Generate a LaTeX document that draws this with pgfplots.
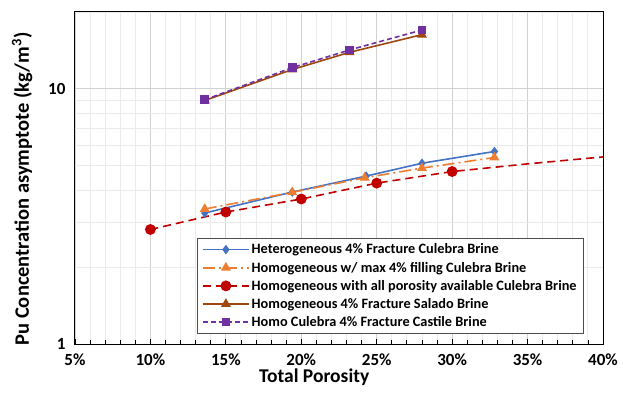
\documentclass[border=0pt]{standalone}
\usepackage{pgfplots}
\pgfplotsset{compat=1.18}
\usepackage{fontspec}
\setmainfont{Carlito}
\definecolor{cblue}{HTML}{4472C4}
\definecolor{corange}{HTML}{ED7D31}
\definecolor{cred}{HTML}{C00000}
\definecolor{cbrown}{HTML}{9E480E}
\definecolor{cpurple}{HTML}{7030A0}
\newcommand{\lf}{\bfseries\fontsize{14.3}{16}\selectfont}
\begin{document}
\begin{tikzpicture}
\begin{axis}[
  scale only axis, width=528pt, height=332pt,
  xmin=5, xmax=40, ymode=log, ymin=1, ymax=20,
  xtick={5,10,...,40}, minor x tick num=4,
  xticklabel={\pgfmathprintnumber{\tick}\%},
  ytick={1,10}, yticklabels={1,10}, minor ytick={2,3,4,5,6,7,8,9,20},
  grid=both,
  major grid style={color=black!18, line width=0.9pt},
  minor grid style={color=black!8, line width=0.9pt},
  tick align=inside, xtick pos=bottom, ytick pos=left,
  major tick length=5pt, minor tick length=4pt,
  y tick style={draw=none}, x tick style={black, line width=0.8pt},
  axis line style={line width=1pt},
  /pgf/number format/assume math mode=true,
  ticklabel style={font=\bfseries\fontsize{17}{17}\selectfont},
  xticklabel style={yshift=-6pt},
  yticklabel style={xshift=-6pt},
  xlabel={Total Porosity},
  ylabel={Pu Concentration asymptote (kg/m\textsuperscript{3})},
  xlabel style={font=\bfseries\fontsize{19.5}{19.5}\selectfont, at={(ticklabel cs:0.453)}, anchor=north, yshift=3pt},
  ylabel style={font=\bfseries\fontsize{20.5}{20.5}\selectfont, at={(ticklabel cs:0.467)}, yshift=9pt},
  legend cell align=left,
  legend style={at={(0.2305,0.318)}, anchor=north west, font=\lf,
    draw=black!70, line width=0.8pt, row sep=2.6pt, inner xsep=5pt, inner ysep=3pt},
  legend image code/.code={\draw[line width=1.6pt, mark indices={2}] plot coordinates {(0pt,0pt)(23pt,0pt)(46pt,0pt)};},
]
\addplot[cblue, line width=1.6pt, mark=diamond*, mark size=3.5pt, mark options={solid, fill=cblue}]
  coordinates {(13.6,3.26)(19.4,3.94)(24.3,4.55)(28.0,5.11)(32.8,5.68)};
\addlegendentry{Heterogeneous 4\% Fracture Culebra Brine}
\addplot[corange, line width=1.6pt, dash pattern=on 12pt off 4pt on 2pt off 4pt, mark=triangle*, mark size=4.2pt, mark options={solid, fill=corange}]
  coordinates {(13.6,3.38)(19.4,3.93)(24.2,4.48)(28.0,4.89)(32.8,5.38)};
\addlegendentry{Homogeneous w/ max 4\% filling Culebra Brine}
\addplot[cred, line width=1.6pt, dash pattern=on 8pt off 5pt, mark=*, mark size=4.6pt, mark indices={1,2,3,4,5}, mark options={solid, fill=cred}]
  coordinates {(10,2.81)(15,3.29)(20,3.70)(25,4.27)(30,4.74)(35,5.08)(40,5.41)};
\addlegendentry{Homogeneous with all porosity available Culebra Brine}
\addplot[cbrown, line width=1.6pt, mark=triangle*, mark size=4.2pt, mark options={solid, fill=cbrown}]
  coordinates {(13.6,9.0)(19.4,11.9)(23.2,13.9)(28.0,16.3)};
\addlegendentry{Homogeneous 4\% Fracture Salado Brine}
\addplot[cpurple, line width=1.6pt, dash pattern=on 5pt off 3pt, mark=square*, mark size=3.5pt, mark options={solid, fill=cpurple}]
  coordinates {(13.6,9.06)(19.4,12.1)(23.2,14.2)(28.0,17.0)};
\addlegendentry{Homo Culebra 4\% Fracture Castile Brine}
\end{axis}
\pgfresetboundingbox
\path (current axis.south west) ++(-75pt,-52pt) rectangle ++(623pt,396pt);
\end{tikzpicture}
\end{document}
